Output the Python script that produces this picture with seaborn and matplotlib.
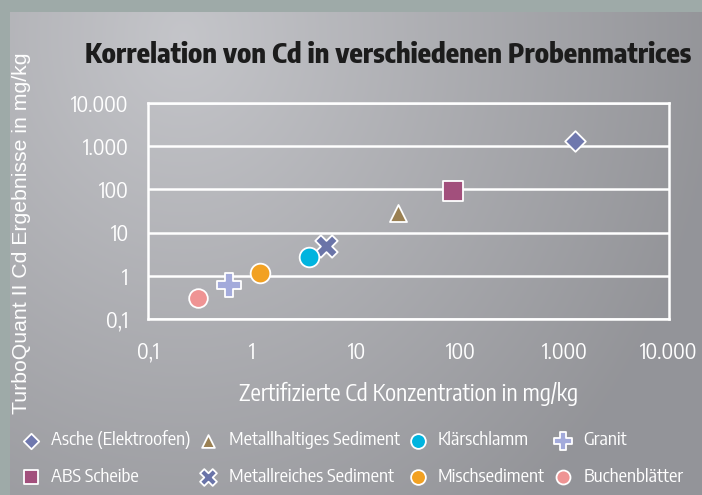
import numpy as np
import pandas as pd
import matplotlib
matplotlib.use("Agg")
import matplotlib.pyplot as plt
import seaborn as sns
from matplotlib.ticker import FixedLocator, NullLocator

samples = ["Asche (Elektroofen)", "ABS Scheibe", "Metallhaltiges Sediment",
           "Metallreiches Sediment", "Klärschlamm", "Mischsediment",
           "Granit", "Buchenblätter"]
certified = [1250, 85, 25, 5.1, 3.5, 1.2, 0.6, 0.3]
measured = [1300, 92, 28, 4.9, 2.7, 1.15, 0.6, 0.3]

tick_values = [0.1, 1, 10, 100, 1000, 10000]
tick_labels = ["0,1", "1", "10", "100", "1.000", "10.000"]

colors = ["#6f78ae", "#a24f7c", "#9a8052", "#6a74a8",
          "#00b4df", "#f2a122", "#a3aadb", "#ef9494"]
markers = ["D", "s", "^", "X", "o", "o", "P", "o"]
sizes = [110, 190, 150, 260, 200, 200, 280, 180]

df = pd.DataFrame({"Probe": samples, "zert": certified, "mess": measured})

sns.set_style("white")
narrow = ["Encode Sans Condensed", "DejaVu Sans"]
plt.rcParams["font.family"] = narrow

fig = plt.figure(figsize=(7.02, 4.95), dpi=100)
fig.patch.set_facecolor("#9eaaa8")

# gradient panel behind everything
bg = fig.add_axes([10 / 702, 0, 692 / 702, 1 - 12 / 495], zorder=-10)
gy, gx = np.mgrid[0:1:200j, 0:1:300j]
d = np.sqrt(((gx - 0.25) * 1.3) ** 2 + ((gy - 0.05) * 0.8) ** 2)
shade = 0.77 - 0.19 * np.clip(d, 0, 1)
rgb = np.dstack([shade, shade + 0.003, shade + 0.02])
bg.imshow(np.clip(rgb, 0, 1), aspect="auto", extent=[0, 1, 1, 0])
bg.set_axis_off()

ax = fig.add_axes([148 / 702, 1 - 319 / 495, 521 / 702, 216 / 495])
ax.patch.set_alpha(0)

for i, row in df.iterrows():
    sns.scatterplot(x=[row["zert"]], y=[row["mess"]], ax=ax, marker=markers[i],
                    s=sizes[i], color=colors[i], edgecolor="white", linewidth=1.3,
                    label=row["Probe"], zorder=3)

ax.set_xscale("log")
ax.set_yscale("log")
ax.set_xlim(0.1, 10000)
ax.set_ylim(0.1, 10000)
ax.xaxis.set_major_locator(FixedLocator(tick_values))
ax.yaxis.set_major_locator(FixedLocator(tick_values))
ax.xaxis.set_minor_locator(NullLocator())
ax.yaxis.set_minor_locator(NullLocator())
ax.set_xticklabels(tick_labels)
ax.set_yticklabels(tick_labels)
ax.tick_params(axis="both", colors="white", labelcolor="white", labelsize=15.5,
               length=6, width=1.5, direction="out")
ax.tick_params(axis="x", pad=10)
ax.tick_params(axis="y", pad=8)
ax.yaxis.grid(True, color="white", linewidth=1.8)
for sp in ax.spines.values():
    sp.set_color("white")
    sp.set_linewidth(1.8)

ax.set_xlabel("Zertifizierte Cd Konzentration in mg/kg", color="white",
              fontsize=16.5, labelpad=13)
fig.text(22 / 702, 1 - 233 / 495, "TurboQuant II Cd Ergebnisse in mg/kg",
         rotation=90, color="white", fontsize=15.3, ha="center", va="center",
         family=["Liberation Sans", "DejaVu Sans"])
fig.text(388 / 702, 1 - 55 / 495, "Korrelation von Cd in verschiedenen Probenmatrices",
         color="#1c1c1c", fontsize=19.7, fontweight=800, ha="center", va="center")

handles, labels = ax.get_legend_handles_labels()
ax.legend_.remove()
leg = fig.legend(handles, labels, ncol=4, loc="upper left",
                 bbox_to_anchor=(14 / 702, 1 - 423 / 495), frameon=False,
                 fontsize=13.4, labelcolor="white", handlelength=1.0,
                 handletextpad=0.6, columnspacing=0.45, labelspacing=1.0,
                 markerscale=0.75, borderaxespad=0)

fig.savefig("out.png", dpi=100, facecolor=fig.get_facecolor())
